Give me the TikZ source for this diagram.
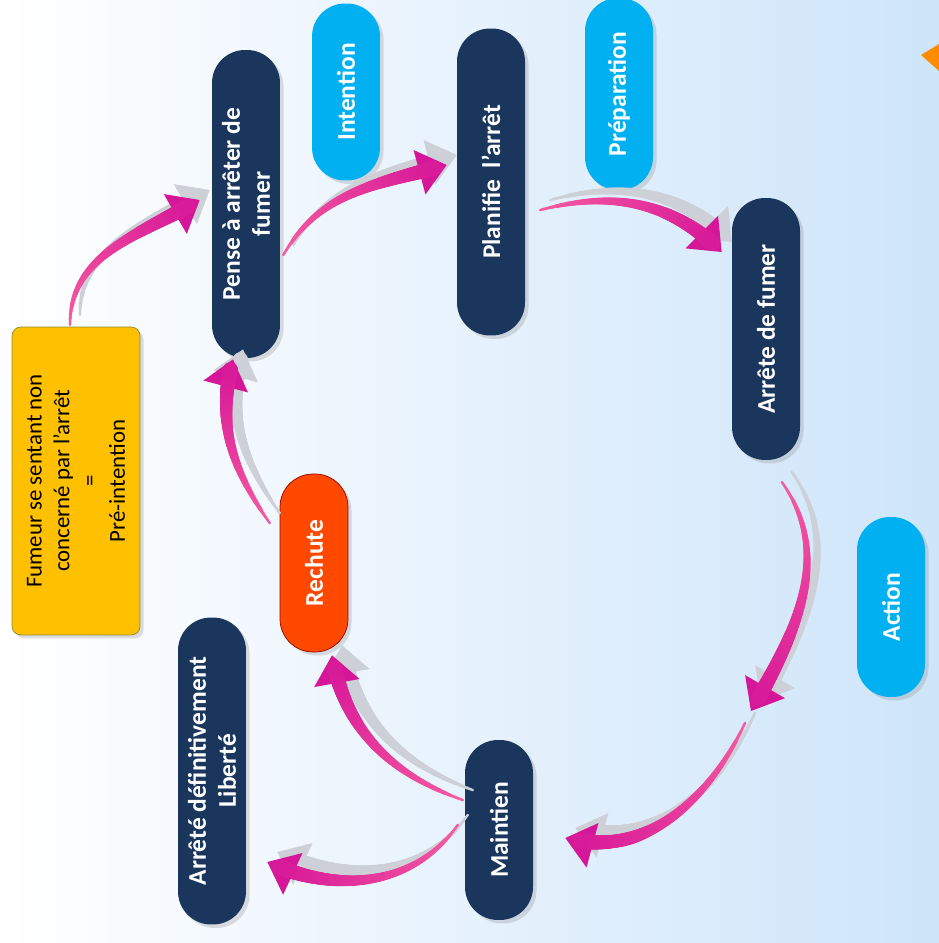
\documentclass[tikz,border=0pt]{standalone}
\usepackage{fontspec}
\setmainfont{Carlito}
\usetikzlibrary{arrows.meta,shadows,calc,decorations.markings}
\definecolor{navy}{RGB}{26,54,93}
\definecolor{skyblue}{RGB}{0,176,240}
\definecolor{amber}{RGB}{255,192,0}
\definecolor{relapse}{RGB}{255,72,0}
\definecolor{flowtail}{RGB}{246,92,160}
\definecolor{flowhead}{RGB}{214,22,152}
\definecolor{flowgrey}{RGB}{205,208,214}
\definecolor{bgblue}{RGB}{206,229,250}

\begin{document}
\begin{tikzpicture}[x=0.02cm,y=0.02cm,
    main node/.style={rotate=90, fill=navy, text=white, align=center,
      font=\fontsize{14.5}{17}\selectfont\bfseries, inner sep=2pt,
      minimum height=1.36cm, rounded corners=0.66cm,
      drop shadow={shadow xshift=2pt,shadow yshift=-2pt,opacity=.25}},
    stage node/.style={main node, fill=skyblue},
    taper/.style n args={2}{decoration={markings,
      mark=between positions 0 and 0.94 step 0.7pt with {%
        \pgfmathsetmacro\tw{0.8+3.8*\pgfkeysvalueof{/pgf/decoration/mark info/distance from start}/\pgfdecoratedpathlength}%
        \pgfmathtruncatemacro\tp{100*\pgfkeysvalueof{/pgf/decoration/mark info/distance from start}/\pgfdecoratedpathlength}%
        \fill[#2!\tp!#1] (0,0) circle (\tw pt);}},
      postaction={decorate}},
    flow/.style={draw, color=flowhead, line width=1pt,
      -{Triangle[width=26pt,length=16pt]}, taper={flowtail}{flowhead}},
    flow shade/.style={draw, color=flowgrey, line width=1pt,
      -{Triangle[width=26pt,length=16pt]}, taper={flowgrey}{flowgrey}}]
    \shade[left color=white, right color=bgblue] (0,0) rectangle (939,943);
    \useasboundingbox (0,0) rectangle (939,943);
    \fill[orange!90!yellow] (921,888) -- (939,899) -- (939,872) -- cycle;

    \node[main node, fill=amber, text=black, draw=olive!70!gray, rounded corners=5pt,
      font=\fontsize{13}{15.8}\selectfont, minimum width=6.16cm, minimum height=2.56cm]
      (0) at (76,462) {Fumeur se sentant non\\concerné par l'arrêt\\=\\Pré-intention};
    \node[main node, minimum width=6.16cm] (1) at (246,739) {Pense à arrêter de\\fumer};
    \node[main node, minimum width=6.14cm] (2) at (491,761) {Planifie\ \ l'arrêt};
    \node[main node, minimum width=5.24cm] (3) at (766,614) {Arrête de fumer};
    \node[main node, minimum width=3.6cm] (4) at (499,113) {Maintien};
    \node[main node, fill=relapse, draw=red!60!black, minimum width=3.56cm] (5) at (314,380) {Rechute};
    \node[main node, minimum width=6.14cm] (6) at (212,172) {Arrêté définitivement\\Liberté};

    \node[stage node, minimum width=3.54cm] (7) at (346,851) {Intention};
    \node[stage node, minimum width=3.84cm] (8) at (619,849) {Préparation};
    \node[stage node, minimum width=3.6cm] (9) at (891,336) {Action};
    \coordinate (10) at (751,232);

    % grey shadow behind the arrows
    \begin{scope}[transform canvas={xshift=0.2cm,yshift=0.2cm}]
    \path[every edge/.style={flow shade}]
    ($(0.east)+(-6,2)$) edge[out=90,in=210] ($(1.north)+(-12,4)$)
    ($(1.south)+(3,-51)$) edge[out=60,in=195] ($(2.north)+(-10,17)$)
    ($(2.south)+(15,-28)$) edge[out=15,in=135] ($(3.north)+(-10,77)$)
    ($(3.west)+(16,-22)$) edge[out=-55,in=60] (10)
    ($(10)+(-6,-12)$) edge[out=-115,in=-15] ($(4.south)+(32,-8)$)
    ($(4.north)+(-2,30)$) edge[out=160,in=-80] ($(5.west)+(18,-3)$)
    ($(4.north)+(-7,5)$) edge[out=-125,in=-25] ($(6.south)+(21,-91)$)
    ($(5.north)+(-10,40)$) edge[out=125,in=-105] ($(1.west)+(-13,-1)$);
    \end{scope}

    \path[every edge/.style={flow}]
    ($(0.east)+(-6,2)$) edge[out=90,in=210] ($(1.north)+(-12,4)$)
    ($(1.south)+(3,-51)$) edge[out=60,in=195] ($(2.north)+(-10,17)$)
    ($(2.south)+(15,-28)$) edge[out=15,in=135] ($(3.north)+(-10,77)$)
    ($(3.west)+(16,-22)$) edge[out=-55,in=60] (10)
    ($(10)+(-6,-12)$) edge[out=-115,in=-15] ($(4.south)+(32,-8)$)
    ($(4.north)+(-2,30)$) edge[out=160,in=-80] ($(5.west)+(18,-3)$)
    ($(4.north)+(-7,5)$) edge[out=-125,in=-25] ($(6.south)+(21,-91)$)
    ($(5.north)+(-10,40)$) edge[out=125,in=-105] ($(1.west)+(-13,-1)$);
\end{tikzpicture}
\end{document}
